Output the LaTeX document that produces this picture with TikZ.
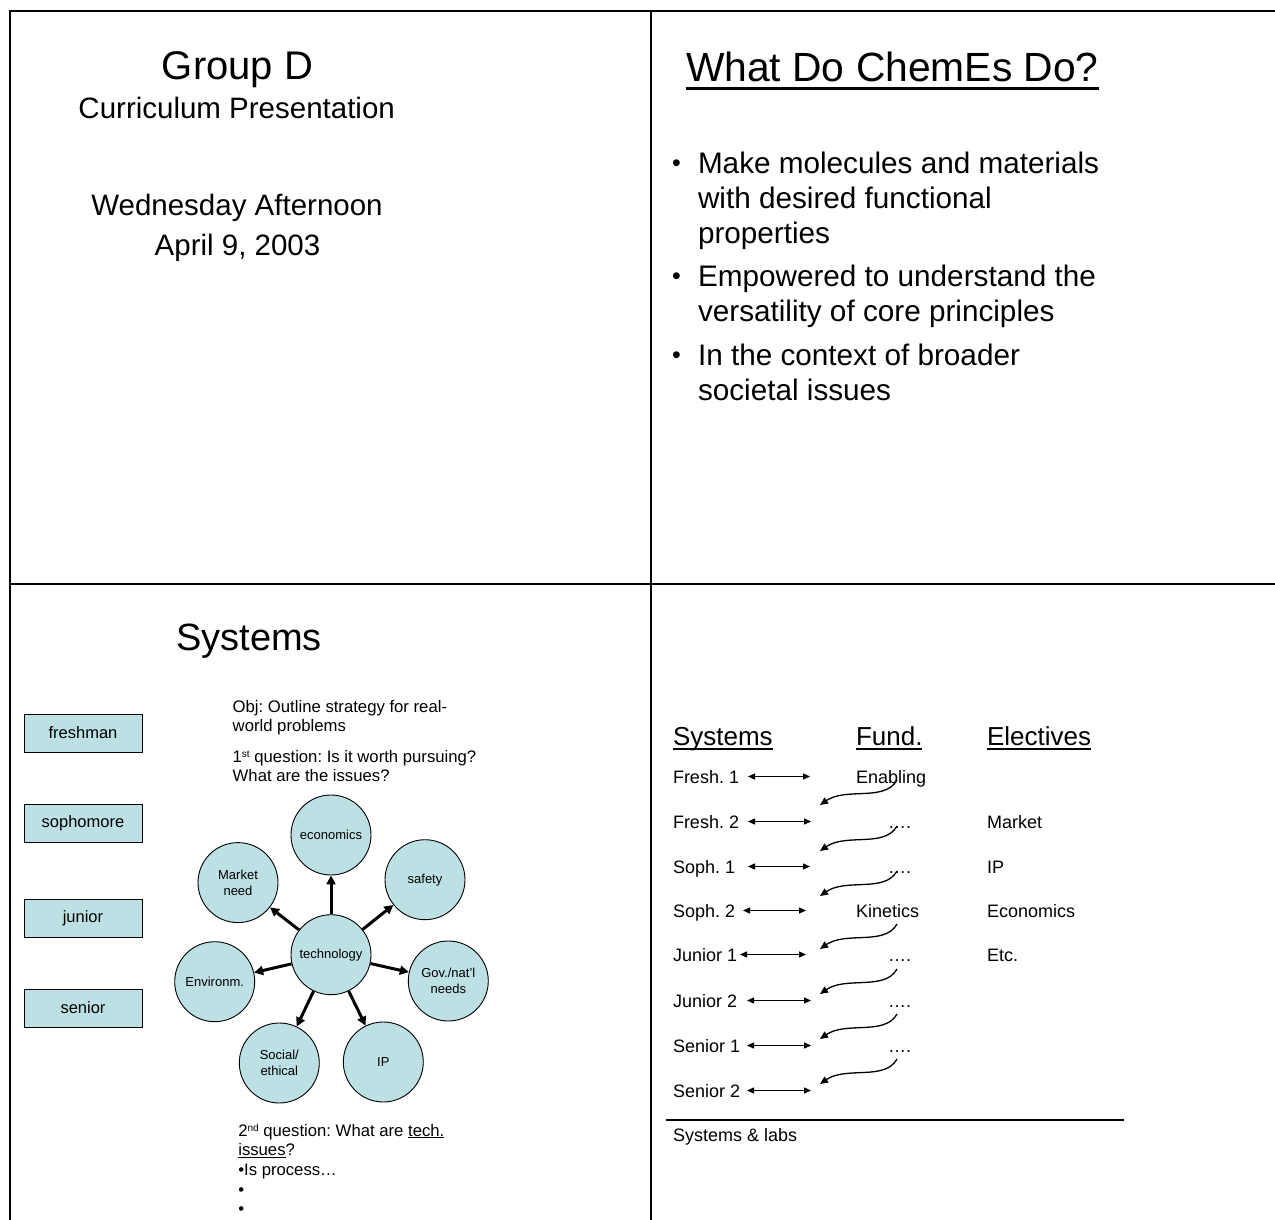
\documentclass[tikz,border=0pt]{standalone}
\usepackage{fontspec}
\setmainfont{Liberation Sans}
\usetikzlibrary{arrows.meta}
\newcommand{\myfs}[2]{\fontsize{#1}{#2}\selectfont}
\definecolor{tealfill}{RGB}{188,224,227}
\frenchspacing
\begin{document}
\begin{tikzpicture}[x=1pt,y=-1pt,
  txt/.style={inner sep=0pt, outer sep=0pt},
  bigtitle/.style={txt, font=\myfs{40}{48}},
  subt/.style={txt, font=\myfs{29.5}{36}},
  bul/.style={txt, anchor=base west, font=\myfs{29.7}{36}},
  bdot/.style={txt, anchor=base west, font=\myfs{25}{30}},
  small/.style={txt, anchor=base west, font=\myfs{16.7}{20}},
  row/.style={txt, anchor=base west, font=\myfs{18}{22}},
  head/.style={txt, anchor=base west, font=\myfs{26}{30}},
  bubble/.style={circle, draw=black, line width=0.9pt, fill=tealfill, minimum size=80pt, inner sep=0pt, align=center, font=\myfs{13}{16}},
  yearbox/.style={draw=black, line width=0.9pt, fill=tealfill, minimum width=118pt, minimum height=38pt, inner sep=0pt, font=\myfs{16.5}{20}},
  spoke/.style={line width=3pt, -{Triangle[length=9pt,width=9pt]}},
  link/.style={line width=1.3pt, {Triangle[length=7pt,width=6pt]}-{Triangle[length=7pt,width=6pt]}},
  wave/.style={line width=1.3pt, -{Triangle[length=8pt,width=7pt]}},
  frame/.style={line width=2.3pt},
  uline/.style={line width=1.8pt}
]
\useasboundingbox (0,0) rectangle (1275,1220);
\fill[white] (0,0) rectangle (1275,1220);

% frame
\coordinate (fbl) at (9.7,1220);
\coordinate (ftr) at (1275,10.8);
\coordinate (fmt) at (651.3,10.8);
\coordinate (fmb) at (651.3,1220);
\coordinate (fhl) at (9.7,583.8);
\coordinate (fhr) at (1275,583.8);
\draw[frame] (fbl) |- (ftr);
\draw[frame] (fmt) -- (fmb);
\draw[frame] (fhl) -- (fhr);

% ---------- top-left slide
\node[bigtitle, anchor=base] (gd) at (237.5,80) {Group D};
\node[subt, anchor=base] (cp) at (236.7,118.3) {Curriculum Presentation};
\node[subt, anchor=base] (wa) at (237,215.7) {Wednesday Afternoon};
\node[subt, anchor=base] (ad) at (237.5,255.7) {April 9, 2003};

% ---------- top-right slide
\node[txt, anchor=base west, font=\myfs{40.8}{48}] (ttl) at (686,81.7) {What Do ChemEs Do?};
\draw[line width=2.5pt] ([yshift=-6.6pt]ttl.base west) -- ([yshift=-6.6pt]ttl.base east);
\node[bdot] (d1) at (672,171.5) {•};
\node[bul] (b1a) at (698,173.3) {Make molecules and materials};
\node[bul] (b1b) at (698,208.3) {with desired functional};
\node[bul] (b1c) at (698,243.3) {properties};
\node[bdot] (d2) at (672,284.9) {•};
\node[bul] (b2a) at (698,286.7) {Empowered to understand the};
\node[bul] (b2b) at (698,321.7) {versatility of core principles};
\node[bdot] (d3) at (672,363.2) {•};
\node[bul] (b3a) at (698,365) {In the context of broader};
\node[bul] (b3b) at (698,400) {societal issues};

% ---------- bottom-left slide
\node[txt, anchor=base, font=\myfs{38}{44}] (sys) at (249,650) {Systems};
\node[yearbox] (fr) at (83,733) {freshman};
\node[yearbox] (so) at (83,823.5) {sophomore};
\node[yearbox] (ju) at (83,918.5) {junior};
\node[yearbox] (se) at (83,1008) {senior};

\node[small] (o1) at (232.7,712.8) {Obj: Outline strategy for real-};
\node[small] (o2) at (232.7,731.7) {world problems};
\node[small] (q1) at (232.7,762) {1\raisebox{4.5pt}{\myfs{10}{12}st} question: Is it worth pursuing?};
\node[small] (q1b) at (232.7,781.7) {What are the issues?};

\node[bubble] (tech) at (331,954.7) {technology};
\node[bubble] (eco) at (331,835) {economics};
\node[bubble] (mkt) at (238,882.6) {Market\\need};
\node[bubble] (saf) at (425,879.7) {safety};
\node[bubble] (env) at (214.7,981.7) {Environm.};
\node[bubble] (gov) at (448.3,981) {Gov./nat'l\\needs};
\node[bubble] (soc) at (279.3,1063) {Social/\\ethical};
\node[bubble] (ip) at (383.3,1062) {IP};
\foreach \t in {eco,mkt,saf,env,gov,soc,ip} \draw[spoke] (tech) -- (\t);

\node[small] (q2) at (238.3,1136) {2\raisebox{4.5pt}{\myfs{10}{12}nd} question: What are \underline{tech.}};
\node[small] (q2b) at (238.3,1155.5) {\underline{issues}?};
\node[small] (q2c) at (238.3,1175) {•Is process…};
\node[small] (q2d) at (238.3,1195) {•};
\node[small] (q2e) at (238.3,1214) {•};

% ---------- bottom-right slide
\node[head] (hs) at (673,745) {Systems};
\node[head] (hf) at (856,745) {Fund.};
\node[head] (he) at (987,745) {Electives};
\foreach \h in {hs,hf,he}
  \draw[uline] ([yshift=-4pt]\h.base west) -- ([yshift=-4pt]\h.base east);

\node[row] (r1) at (673,783) {Fresh. 1};
\node[row] (r2) at (673,828) {Fresh. 2};
\node[row] (r3) at (673,873) {Soph. 1};
\node[row] (r4) at (673,917) {Soph. 2};
\node[row] (r5) at (673,961) {Junior 1};
\node[row] (r6) at (673,1007) {Junior 2};
\node[row] (r7) at (673,1052) {Senior 1};
\node[row] (r8) at (673,1097) {Senior 2};

\foreach \i/\y/\xa/\xb in {1/776.5/748/810, 2/821.5/748/811, 3/866.5/748/810, 4/910.5/743/806,
                           5/954.5/740/806, 6/1000.5/747/811, 7/1045.5/747/811, 8/1090.5/747/811} {
  \coordinate (la\i) at (\xa,\y);
  \coordinate (lb\i) at (\xb,\y);
  \draw[link] (la\i) -- (lb\i);
}

\node[row] (f1) at (856,783) {Enabling};
\node[row] (f2) at (888,828) {….};
\node[row] (f3) at (888,873) {….};
\node[row] (f4) at (856,917) {Kinetics};
\node[row] (f5) at (888,961) {….};
\node[row] (f6) at (888,1007) {….};
\node[row] (f7) at (888,1052) {….};

\node[row] (e2) at (987,828) {Market};
\node[row] (e3) at (987,873) {IP};
\node[row] (e4) at (987,917) {Economics};
\node[row] (e5) at (987,961) {Etc.};

\foreach \i/\s in {1/780, 2/826, 3/871, 4/924, 5/969, 6/1014, 7/1059} {
  \coordinate (ws\i) at (897,\s);
  \coordinate (wt\i) at (820,\s+25);
  \draw[wave] (ws\i) .. controls ([shift={(-12,22)}]ws\i) and ([shift={(26,-18)}]wt\i) .. (wt\i);
}

\coordinate (hl1) at (666,1120);
\coordinate (hl2) at (1124,1120);
\draw[line width=1.3pt] (hl1) -- (hl2);
\node[row] (sl) at (673,1141.7) {Systems \& labs};
\end{tikzpicture}
\end{document}
